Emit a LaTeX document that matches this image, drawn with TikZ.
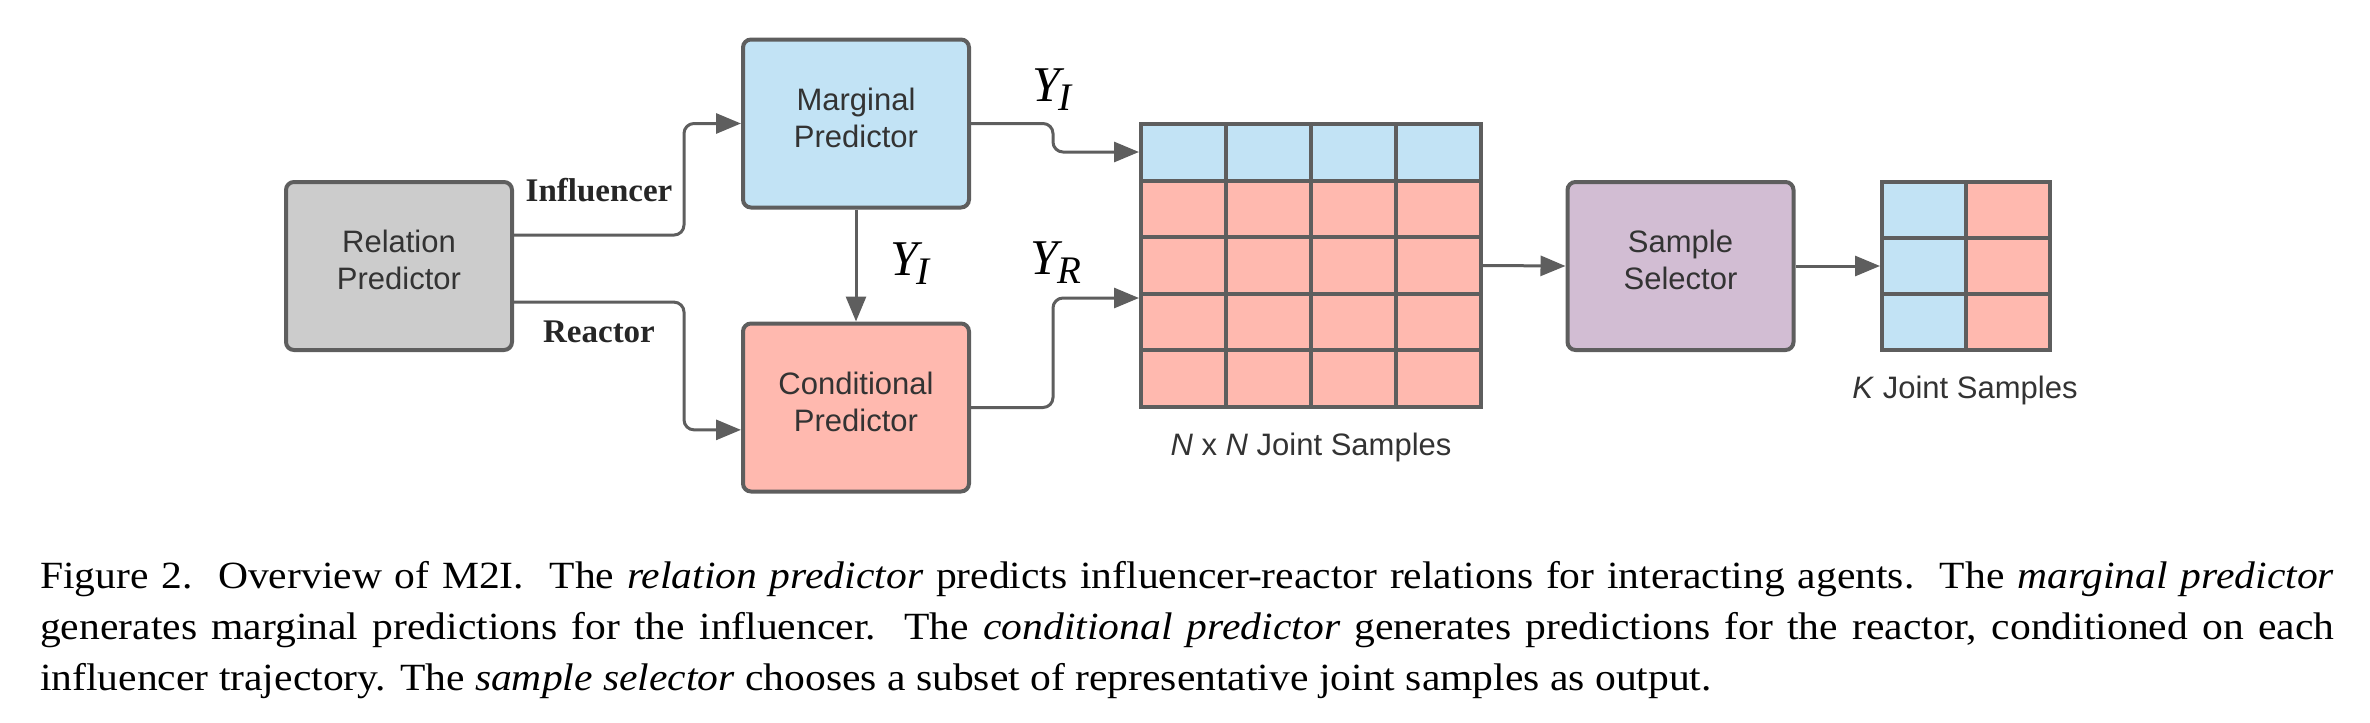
\documentclass[tikz,border=0pt]{standalone}
\usepackage{fontspec}
\setmainfont{Liberation Serif}
\newfontfamily\lsans{Liberation Sans}
\newfontfamily\capfont[FakeStretch=1.08]{Liberation Serif}
\usetikzlibrary{arrows.meta,calc}
\definecolor{bord}{HTML}{5E5E5E}
\definecolor{lblue}{HTML}{C2E3F5}
\definecolor{lred}{HTML}{FFB9AF}
\definecolor{lgray}{HTML}{CCCCCC}
\definecolor{lpurple}{HTML}{D2BDD3}
\definecolor{txt}{HTML}{333333}
\newcommand\Ylab[1]{{\fontsize{50}{50}\selectfont\itshape Y}\kern-1pt\raisebox{-9pt}{\fontsize{39}{39}\selectfont\itshape #1}}
\begin{document}
\begin{tikzpicture}[x=1pt,y=-1pt,
  block/.style={draw=bord, line width=4pt, rounded corners=8pt, minimum width=226pt,
    minimum height=168pt, inner sep=0pt, align=center, text depth=12pt,
    font=\lsans\fontsize{31}{37}\selectfont, text=txt},
  conn/.style={draw=bord, line width=3pt, rounded corners=10pt,
    -{Triangle[length=25pt,width=20pt]}},
  lab/.style={font=\bfseries\fontsize{33}{33}\selectfont, text=black!85},
  ylab/.style={text=black, inner sep=0pt},
  glab/.style={font=\lsans\fontsize{31}{31}\selectfont, text=txt},
  gline/.style={draw=bord, line width=4pt},
  capl/.style={anchor=base west, inner sep=0pt, font=\capfont\fontsize{38.5}{51}\selectfont}
]
\useasboundingbox (0,0) rectangle (2370,723);

% blocks
\node[block, fill=lgray]   (rel)  at (399,266)    {Relation\\Predictor};
\node[block, fill=lblue]   (marg) at (856,123.5)  {Marginal\\Predictor};
\node[block, fill=lred]    (cond) at (856,407.5)  {Conditional\\Predictor};
\node[block, fill=lpurple] (sel)  at (1680.5,266) {Sample\\Selector};

% N x N grid
\fill[lblue] (1141,124) rectangle (1481,180.6);
\fill[lred]  (1141,180.6) rectangle (1481,407);
\foreach \x in {1226,1311,1396} \draw[gline] (\x,124) -- (\x,407);
\foreach \y in {180.6,237.2,293.8,350.4} \draw[gline] (1141,\y) -- (1481,\y);
\node[gline, minimum width=340pt, minimum height=283pt, inner sep=0pt] (nn) at (1311,265.5) {};

% K grid
\fill[lblue] (1882,182) rectangle (1966,350);
\fill[lred]  (1966,182) rectangle (2050,350);
\draw[gline] (1966,182) -- (1966,350);
\foreach \y in {238,294} \draw[gline] (1882,\y) -- (2050,\y);
\node[gline, minimum width=168pt, minimum height=168pt, inner sep=0pt] (kk) at (1966,266) {};

% connectors
\coordinate (inflS) at ($(rel.north east)!0.32!(rel.south east)$);
\coordinate (reacS) at ($(rel.north east)!0.71!(rel.south east)$);
\draw[conn] (inflS) -- ++(170,0) |- (marg.west);
\draw[conn] (reacS) -- ++(170,0) |- ($(cond.north west)!0.63!(cond.south west)$);
\draw[conn] (marg.south) -- (cond.north);
\draw[conn] (marg.east) -- ++(82,0) |- ($(nn.west)+(0,-113.5)$);
\draw[conn] (cond.east) -- ++(82,0) |- ($(nn.west)+(0,32.5)$);
\draw[conn] (nn.east) -- (sel.west);
\draw[conn] (sel.east) -- (kk.west);

% labels
\node[lab] (infl) at (599,190) {Influencer};
\node[lab] (reac) at (599,332) {Reactor};
\node[ylab] (yi1) at (1052,90)  {\Ylab{I}};
\node[ylab] (yi2) at (910,264)  {\Ylab{I}};
\node[ylab] (yr)  at (1056,263) {\Ylab{R}};
\node[glab] (nnl) at (1311,447) {\textit{N} x \textit{N} Joint Samples};
\node[glab] (kkl) at (1965,390) {\textit{K} Joint Samples};

% caption
\node[capl] (cap1) at (40,588) {\hbox to 2294pt{Figure 2.\ \ Overview of M2I\@.\ \ The \textit{relation predictor} predicts influencer-reactor relations for interacting agents.\ \ The \textit{marginal predictor}}};
\node[capl] (cap2) at (40,639) {\hbox to 2294pt{generates marginal predictions for the influencer.\ \ The \textit{conditional predictor} generates predictions for the reactor, conditioned on each}};
\node[capl] (cap3) at (40,690) {influencer trajectory. The \textit{sample selector} chooses a subset of representative joint samples as output.};
\end{tikzpicture}
\end{document}
